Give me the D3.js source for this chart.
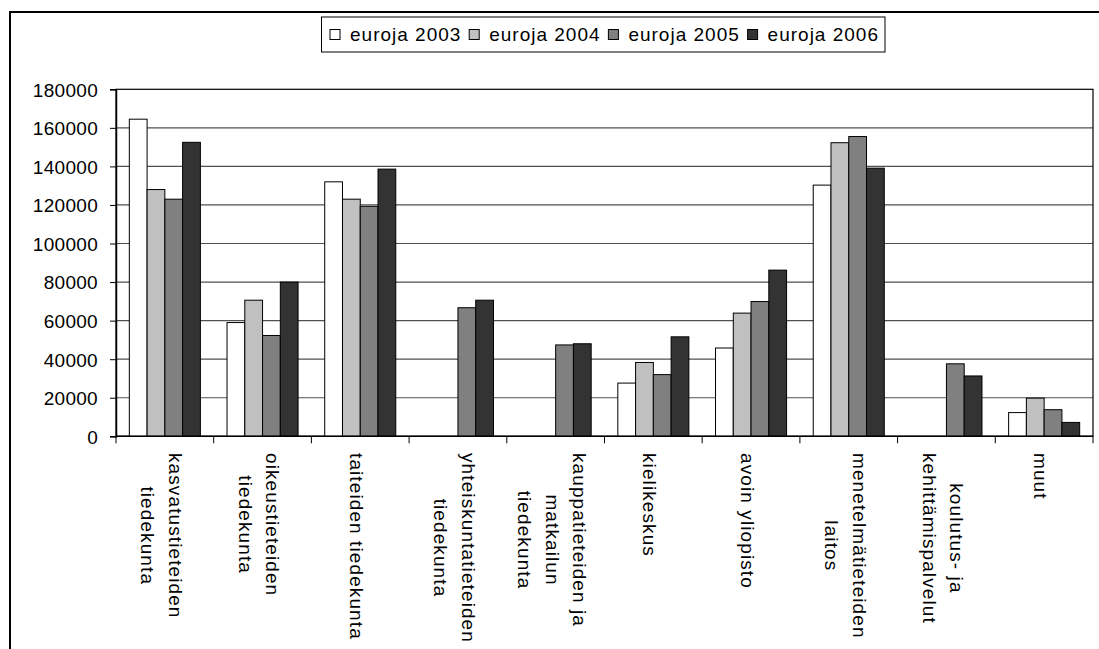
<!DOCTYPE html>
<html>
<head>
<meta charset="utf-8">
<script src="https://cdn.jsdelivr.net/npm/d3@7"></script>
<style>
  body { margin: 0; background: #fff; }
  svg { display: block; font-family: "Liberation Sans", Arial, sans-serif; }
</style>
</head>
<body>
<svg id="chart" width="1099" height="649"></svg>
<script>
// faculty / unit names, one entry per line of the rotated label
const categories = [
    ["kasvatustieteiden", "tiedekunta"],
    ["oikeustieteiden", "tiedekunta"],
    ["taiteiden tiedekunta"],
    ["yhteiskuntatieteiden", "tiedekunta"],
    ["kauppatieteiden ja", "matkailun", "tiedekunta"],
    ["kielikeskus"],
    ["avoin yliopisto"],
    ["menetelmätieteiden", "laitos"],
    ["koulutus- ja", "kehittämispalvelut"],
    ["muut"]
];

const seriesNames = ["euroja 2003", "euroja 2004", "euroja 2005", "euroja 2006"];
const seriesColors = ["#ffffff", "#c0c0c0", "#808080", "#333333"];

const euros2003 = [164500, 59000, 132000, null, null, 27600, 45800, 130300, null, 12300];
const euros2004 = [128000, 70600, 123000, null, null, 38300, 63900, 152300, null, 19800];
const euros2005 = [123000, 52300, 119300, 66700, 47400, 32000, 69900, 155500, 37600, 13800];
const euros2006 = [152500, 80000, 138600, 70600, 48000, 51600, 86200, 139100, 31300, 7200];

const yTicks = [0, 20000, 40000, 60000, 80000, 100000, 120000, 140000, 160000, 180000];

const seriesValues = [euros2003, euros2004, euros2005, euros2006];

const svg = d3.select("#chart");

const plot = { left: 116, right: 1093, top: 89.3, bottom: 436.3 };

// outer chart frame (runs off the right and bottom of the picture)
svg.append("rect")
    .attr("x", 10).attr("y", 12)
    .attr("width", 1100).attr("height", 700)
    .attr("fill", "none")
    .attr("stroke", "#000")
    .attr("stroke-width", 2);

const catIndex = d3.range(categories.length);

const x = d3.scaleBand()
    .domain(catIndex)
    .range([plot.left, plot.right])
    .paddingInner(0)
    .paddingOuter(0);

const barW = x.bandwidth() / 5.5;   // Excel gap width 150

const xs = d3.scaleBand()
    .domain(d3.range(seriesNames.length))
    .range([0.75 * barW, 4.75 * barW]);

const y = d3.scaleLinear()
    .domain([0, 180000])
    .range([plot.bottom, plot.top]);

// gridlines
svg.append("g")
    .selectAll("line")
    .data(yTicks.filter(d => d > 0 && d < 180000))
    .join("line")
    .attr("x1", plot.left).attr("x2", plot.right)
    .attr("y1", d => y(d)).attr("y2", d => y(d))
    .attr("stroke", "#505050")
    .attr("stroke-width", 1.2);

// plot area border
svg.append("rect")
    .attr("x", plot.left).attr("y", plot.top)
    .attr("width", plot.right - plot.left)
    .attr("height", plot.bottom - plot.top)
    .attr("fill", "none")
    .attr("stroke", "#000")
    .attr("stroke-width", 1.2);

// bars
const barData = [];
seriesValues.forEach((vals, s) => {
    vals.forEach((v, c) => {
        if (v != null) barData.push({ s, c, v });
    });
});

svg.append("g")
    .selectAll("rect")
    .data(barData)
    .join("rect")
    .attr("x", d => x(d.c) + xs(d.s))
    .attr("y", d => y(d.v))
    .attr("width", xs.bandwidth())
    .attr("height", d => y(0) - y(d.v))
    .attr("fill", d => seriesColors[d.s])
    .attr("stroke", "#000")
    .attr("stroke-width", 1);

// y axis
const yAxis = d3.axisLeft(y)
    .tickValues(yTicks)
    .tickFormat(d => d)
    .tickSize(6)
    .tickPadding(12);

const yAxisG = svg.append("g")
    .attr("transform", `translate(${plot.left},0)`)
    .call(yAxis);
yAxisG.select(".domain").attr("stroke", "#000").attr("stroke-width", 1.5);
yAxisG.selectAll(".tick line").attr("stroke", "#000");
yAxisG.selectAll(".tick text")
    .attr("font-family", "'Liberation Sans', Arial, sans-serif")
    .attr("font-size", 19)
    .attr("letter-spacing", 0.3)
    .attr("fill", "#000")
    .attr("dy", "0.36em");

// x axis line and ticks at category boundaries
svg.append("line")
    .attr("x1", plot.left).attr("x2", plot.right)
    .attr("y1", plot.bottom).attr("y2", plot.bottom)
    .attr("stroke", "#000").attr("stroke-width", 1.5);

const boundaries = d3.range(categories.length + 1)
    .map(i => i < categories.length ? x(i) : x(i - 1) + x.bandwidth());

svg.append("g")
    .selectAll("line")
    .data(boundaries)
    .join("line")
    .attr("x1", d => d).attr("x2", d => d)
    .attr("y1", plot.bottom).attr("y2", plot.bottom + 7)
    .attr("stroke", "#000");

// rotated category labels
const lineStep = 27.5;
const labelTop = 453;

const labels = svg.append("g")
    .selectAll("g")
    .data(categories)
    .join("g")
    .attr("transform", (d, i) => `translate(${x(i) + x.bandwidth() / 2},${labelTop}) rotate(90)`);

labels.each(function (lines) {
    const g = d3.select(this);
    const n = lines.length;
    const texts = g.selectAll("text")
        .data(lines)
        .join("text")
        .attr("font-size", 19)
        .attr("letter-spacing", 1.1)
        .attr("fill", "#000")
        .attr("text-anchor", "middle")
        .attr("y", (d, i) => -((n - 1) / 2 - i) * lineStep + 10)
        .text(d => d);
    let maxLen = 0;
    texts.each(function () { maxLen = Math.max(maxLen, this.getComputedTextLength()); });
    texts.attr("x", maxLen / 2);
});

// legend
const legend = svg.append("g");
legend.append("rect")
    .attr("x", 321.5).attr("y", 17)
    .attr("width", 563.5).attr("height", 35)
    .attr("fill", "#fff")
    .attr("stroke", "#000")
    .attr("stroke-width", 1);

const items = legend.selectAll("g")
    .data(seriesNames)
    .join("g")
    .attr("transform", (d, i) => `translate(${330 + i * 139.2},0)`);

items.append("rect")
    .attr("x", 0).attr("y", 29.5)
    .attr("width", 10).attr("height", 10)
    .attr("fill", (d, i) => seriesColors[i])
    .attr("stroke", "#000");

items.append("text")
    .attr("x", 20).attr("y", 40.5)
    .attr("font-size", 19)
    .attr("letter-spacing", 1)
    .attr("fill", "#000")
    .text(d => d);
</script>
</body>
</html>
